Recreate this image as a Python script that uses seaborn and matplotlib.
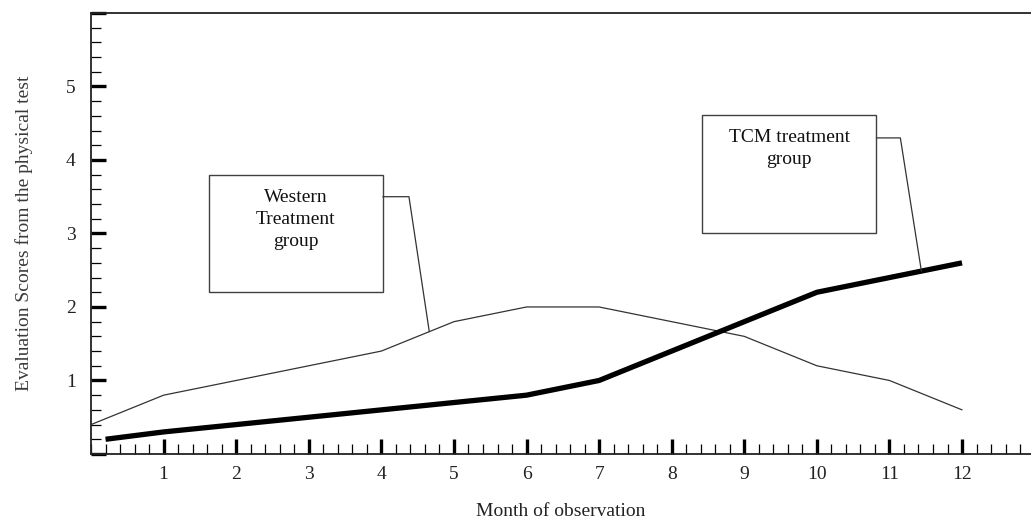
import numpy as np
import pandas as pd
import seaborn as sns
import matplotlib.pyplot as plt
from matplotlib.patches import Rectangle
from matplotlib.ticker import MultipleLocator

sns.set_theme(style="ticks")
plt.rcParams['font.family'] = ['Liberation Serif', 'DejaVu Serif']

# Daten
western_months = [0, 1, 2, 3, 4, 5, 6, 7, 8, 9, 10, 11, 12]
western_scores = [0.4, 0.8, 1.0, 1.2, 1.4, 1.8, 2.0, 2.0, 1.8, 1.6, 1.2, 1.0, 0.6]
tcm_months = [0.2, 1, 2, 3, 4, 5, 6, 7, 8, 9, 10, 11, 12]
tcm_scores = [0.2, 0.3, 0.4, 0.5, 0.6, 0.7, 0.8, 1.0, 1.4, 1.8, 2.2, 2.4, 2.6]
x_ticks = list(range(1, 13))
y_ticks = [1, 2, 3, 4, 5]

western = pd.DataFrame({'Monat': western_months, 'Wert': western_scores})
tcm = pd.DataFrame({'Monat': tcm_months, 'Wert': tcm_scores})

fig = plt.figure(figsize=(10.31, 5.18), dpi=100)
ax = fig.add_axes([0.0883, 0.1236, 0.9117, 0.8514])

sns.lineplot(data=western, x='Monat', y='Wert', color='#333333', linewidth=0.9, ax=ax)
sns.lineplot(data=tcm, x='Monat', y='Wert', color='black', linewidth=3.8, ax=ax,
             solid_capstyle='butt')

ax.set_xlim(0, 12.95)
ax.set_ylim(0, 6)

ax.set_xticks(x_ticks)
ax.set_xticklabels([str(v) for v in x_ticks])
ax.xaxis.set_minor_locator(MultipleLocator(0.2))
ax.set_yticks([0] + y_ticks + [6])
ax.set_yticklabels([''] + [str(v) for v in y_ticks] + [''])
ax.yaxis.set_minor_locator(MultipleLocator(0.2))

ax.tick_params(which='major', direction='in', length=11, width=2.4, color='black',
               labelsize=14, labelcolor='#222222')
ax.tick_params(which='minor', direction='in', length=7, width=0.9, color='black')
ax.tick_params(axis='x', which='major', pad=9)
ax.tick_params(axis='y', which='major', pad=11)
ax.tick_params(top=False, right=False, which='both')

for side in ['left', 'bottom', 'top']:
	ax.spines[side].set_linewidth(1.3)
	ax.spines[side].set_color('#222222')
ax.spines['right'].set_visible(False)

ax.set_xlabel('Month of observation', fontsize=14, color='#222222', labelpad=14)
ax.set_ylabel('Evaluation Scores from the physical test', fontsize=14, color='#3a3a3a',
              labelpad=24)

# Beschriftungskästen mit Führungslinien
def callout(x0, y0, w, h, text, knee_x, knee_y, target_x, months, scores):
	ax.add_patch(Rectangle((x0, y0), w, h, fill=False, edgecolor='#404040', linewidth=1.0))
	ax.text(x0 + w / 2, y0 + h - 0.19, text, ha='center', va='top', fontsize=14,
	        color='#111111', linespacing=1.38)
	target_y = np.interp(target_x, months, scores)
	ax.plot([x0 + w, knee_x, target_x], [knee_y, knee_y, target_y], color='#333333',
	        linewidth=0.9)

callout(1.62, 2.20, 2.40, 1.59, 'Western\nTreatment\ngroup', 4.38, 3.5, 4.66,
        western_months, western_scores)
callout(8.42, 3.01, 2.40, 1.60, 'TCM treatment\ngroup', 11.15, 4.3, 11.44,
        tcm_months, tcm_scores)

plt.savefig('out.png', dpi=100)
plt.close()
